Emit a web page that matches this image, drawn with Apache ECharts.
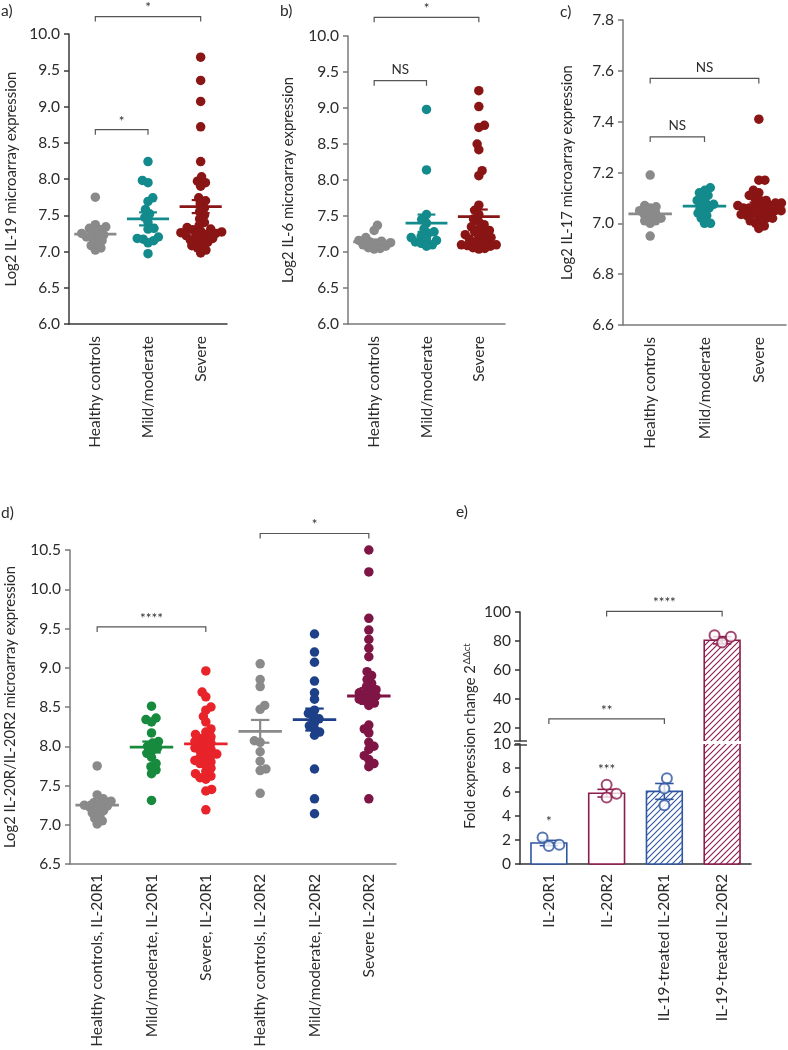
<!DOCTYPE html>
<html><head><meta charset="utf-8">
<script src="https://cdn.jsdelivr.net/npm/echarts@6/dist/echarts.min.js"></script>
<style>html,body{margin:0;padding:0;background:#fff}#c{width:788px;height:1050px}</style>
</head><body><div id="c"></div>
<script>
// ---------------- DATA ----------------
const groupCats = ['Healthy controls', 'Mild/moderate', 'Severe'];

const il19Healthy = [7.75, 7.37, 7.34, 7.32, 7.30, 7.28, 7.25, 7.23, 7.21, 7.20, 7.18, 7.15, 7.12, 7.08, 7.05, 7.02];
const il19Mild = [8.24, 7.98, 7.95, 7.74, 7.69, 7.58, 7.52, 7.47, 7.40, 7.32, 7.31, 7.20, 7.18, 7.17, 7.15, 7.12, 6.97];
const il19Severe = [9.68, 9.36, 9.07, 8.72, 8.24, 8.03, 7.97, 7.95, 7.90, 7.74, 7.70, 7.66, 7.60, 7.55, 7.50, 7.45, 7.40, 7.36, 7.33, 7.31, 7.30, 7.28, 7.27, 7.26, 7.25, 7.24, 7.23, 7.22, 7.20, 7.18, 7.16, 7.15, 7.13, 7.10, 7.08, 7.05, 7.02, 6.98];
const il19Mean = [7.24, 7.45, 7.62];
const il19Sem = [0.04, 0.09, 0.09];
const il19Brackets = [[0, 2, 10.24], [0, 1, 8.68]];
const il19BracketText = ['*', '*'];

const il6Healthy = [7.37, 7.30, 7.20, 7.16, 7.15, 7.14, 7.13, 7.12, 7.10, 7.08, 7.06, 7.05, 7.04];
const il6Mild = [8.98, 8.14, 7.52, 7.45, 7.40, 7.32, 7.28, 7.26, 7.22, 7.20, 7.18, 7.16, 7.14, 7.12, 7.10, 7.08];
const il6Severe = [9.24, 9.02, 8.76, 8.73, 8.50, 8.42, 8.13, 8.06, 7.65, 7.58, 7.52, 7.46, 7.42, 7.38, 7.35, 7.32, 7.30, 7.28, 7.26, 7.24, 7.22, 7.20, 7.18, 7.16, 7.14, 7.12, 7.10, 7.10, 7.09, 7.08, 7.06, 7.05, 7.04];
const il6Mean = [7.14, 7.40, 7.49];
const il6Sem = [0.03, 0.12, 0.10];
const il6Brackets = [[0, 2, 10.26], [0, 1, 9.38]];
const il6BracketText = ['*', 'NS'];

const il17Healthy = [7.19, 7.07, 7.065, 7.06, 7.05, 7.04, 7.035, 7.03, 7.02, 7.01, 7.01, 7.00, 6.95];
const il17Mild = [7.14, 7.13, 7.12, 7.11, 7.10, 7.09, 7.08, 7.075, 7.07, 7.06, 7.05, 7.04, 7.03, 7.02, 7.00, 7.00];
const il17Severe = [7.41, 7.17, 7.17, 7.13, 7.12, 7.11, 7.10, 7.09, 7.09, 7.08, 7.08, 7.075, 7.07, 7.07, 7.065, 7.06, 7.06, 7.055, 7.05, 7.05, 7.045, 7.04, 7.04, 7.035, 7.03, 7.03, 7.02, 7.02, 7.01, 7.01, 7.00, 6.99, 6.98];
const il17Mean = [7.037, 7.068, 7.07];
const il17Sem = [0.015, 0.01, 0.012];
const il17Brackets = [[0, 2, 7.57], [0, 1, 7.34]];
const il17BracketText = ['NS', 'NS'];

const receptorCats = ['Healthy controls, IL-20R1', 'Mild/moderate, IL-20R1', 'Severe, IL-20R1', 'Healthy controls, IL-20R2', 'Mild/moderate, IL-20R2', 'Severe IL-20R2'];
const r1Healthy = [7.75, 7.38, 7.33, 7.30, 7.28, 7.27, 7.25, 7.24, 7.22, 7.20, 7.18, 7.15, 7.12, 7.08, 7.05, 7.01];
const r1Mild = [8.51, 8.36, 8.34, 8.31, 8.17, 8.06, 8.04, 8.00, 7.98, 7.95, 7.91, 7.86, 7.78, 7.74, 7.70, 7.65, 7.31];
const r1Severe = [8.96, 8.69, 8.63, 8.50, 8.46, 8.38, 8.31, 8.22, 8.18, 8.15, 8.12, 8.10, 8.08, 8.06, 8.04, 8.02, 8.00, 7.98, 7.96, 7.94, 7.92, 7.90, 7.88, 7.86, 7.84, 7.82, 7.80, 7.78, 7.76, 7.72, 7.68, 7.65, 7.62, 7.60, 7.58, 7.45, 7.43, 7.19];
const r2Healthy = [9.05, 8.85, 8.76, 8.52, 8.47, 8.07, 8.05, 7.93, 7.81, 7.71, 7.69, 7.40];
const r2Mild = [9.43, 9.20, 9.07, 8.83, 8.68, 8.60, 8.46, 8.42, 8.38, 8.35, 8.30, 8.26, 8.22, 8.18, 8.14, 7.71, 7.33, 7.14];
const r2Severe = [10.50, 10.22, 9.63, 9.48, 9.36, 9.25, 9.14, 8.95, 8.90, 8.85, 8.80, 8.76, 8.72, 8.70, 8.68, 8.66, 8.64, 8.62, 8.60, 8.58, 8.55, 8.52, 8.27, 8.22, 8.17, 8.05, 8.00, 7.96, 7.88, 7.83, 7.78, 7.74, 7.33];
const receptorMean = [7.25, 7.99, 8.03, 8.19, 8.34, 8.64];
const receptorSem = [0.04, 0.07, 0.06, 0.145, 0.14, 0.10];
const receptorBrackets = [[0, 2, 9.52], [3, 5, 10.71]];
const receptorBracketText = ['****', '*'];

const foldCats = ['IL-20R1', 'IL-20R2', 'IL-19-treated IL-20R1', 'IL-19-treated IL-20R2'];
const foldR1 = [2.2, 1.5, 1.6];
const foldR2 = [6.6, 5.55, 5.85];
const foldTreatedR1 = [7.15, 6.3, 4.9];
const foldTreatedR2 = [79, 84, 83];
const foldMean = [1.75, 5.9, 6.05, 80.5];
const foldSem = [0.22, 0.32, 0.66, 2.5];
const foldBrackets = [[0, 2, 26.2], [1, 3, 100.4]];
const foldBracketText = ['**', '****'];
const foldStars = [[0, 3.5], [1, 7.9]];
const foldStarText = ['*', '***'];

// ---------------- STYLE / LAYOUT ----------------
const FONT = 'Lato, "Source Sans Pro", "Noto Sans", sans-serif';
const TXT = '#2b2b2b';
const FS = 15.5;
const GREY = '#8a8a8a', TEAL = '#138a8c', DRED = '#8a1515';
const GREEN = '#178a3e', RED = '#e8232a', NAVY = '#1d4088', MAROON = '#7e1545';
const E_BLUE = '#2f56a0', E_RED = '#8c1c4e';

const grids = [], xAxes = [], yAxes = [], series = [];

function swarm(vals, ppu, d) {
  const pts = vals.map((v, i) => ({ i, y: v * ppu }));
  pts.sort((a, b) => a.y - b.y);
  const placed = []; const off = new Array(vals.length).fill(0);
  let flip = 1;
  for (const p of pts) {
    const near = placed.filter(q => Math.abs(q.y - p.y) < d);
    const cands = [0];
    for (const q of near) {
      const dx = Math.sqrt(d * d - (q.y - p.y) ** 2);
      cands.push(q.x + dx + 0.01, q.x - dx - 0.01);
    }
    cands.sort((a, b) => (Math.abs(a) - Math.abs(b)) || (flip * (b - a)));
    let x = 0;
    for (const c of cands) {
      if (near.every(q => (q.x - c) ** 2 + (q.y - p.y) ** 2 >= d * d - 0.02)) { x = c; break; }
    }
    if (x !== 0) flip = -flip;
    placed.push({ x, y: p.y }); off[p.i] = x;
  }
  return off;
}

function errRender(colors, meanHalf, capHalf, lw, mlw) {
  return function (params, api) {
    const i = api.value(0), m = api.value(1), s = api.value(2);
    const c = api.coord([i, m]), hi = api.coord([i, m + s]), lo = api.coord([i, m - s]);
    const bw = api.size([1, 0])[0];
    const col = colors[params.dataIndex];
    const ch = bw * capHalf, mh = bw * meanHalf;
    const children = [];
    if (mh > 0) children.push({ type: 'line', shape: { x1: c[0] - mh, y1: c[1], x2: c[0] + mh, y2: c[1] }, style: { stroke: col, lineWidth: mlw } });
    children.push({ type: 'line', shape: { x1: c[0], y1: hi[1], x2: c[0], y2: lo[1] }, style: { stroke: col, lineWidth: lw } });
    children.push({ type: 'line', shape: { x1: c[0] - ch, y1: hi[1], x2: c[0] + ch, y2: hi[1] }, style: { stroke: col, lineWidth: lw } });
    children.push({ type: 'line', shape: { x1: c[0] - ch, y1: lo[1], x2: c[0] + ch, y2: lo[1] }, style: { stroke: col, lineWidth: lw } });
    return { type: 'group', children };
  };
}

function bracketRender(texts) {
  return function (params, api) {
    const y = api.value(2);
    const a = api.coord([api.value(0), y]), b = api.coord([api.value(1), y]);
    const t = 5;
    const txt = texts[params.dataIndex];
    const lift = txt.charAt(0) === '*' ? 1.5 : 4;
    return { type: 'group', children: [
      { type: 'polyline', shape: { points: [[a[0], a[1] + t], [a[0], a[1]], [b[0], b[1]], [b[0], b[1] + t]] }, style: { stroke: '#555', lineWidth: 1.2, fill: null } },
      { type: 'text', x: (a[0] + b[0]) / 2, y: a[1] - lift, style: { text: txt, align: 'center', verticalAlign: 'bottom', fill: TXT, fontSize: 13.5, fontFamily: FONT } }
    ] };
  };
}

function textRender(texts) {
  return function (params, api) {
    const p = api.coord([api.value(0), api.value(1)]);
    return { type: 'text', x: p[0], y: p[1], style: { text: texts[params.dataIndex], align: 'center', verticalAlign: 'middle', fill: TXT, fontSize: 13.5, fontFamily: FONT } };
  };
}

function addAxes(g, cats, yCfg, xShow, axisColor, labelMargin) {
  const idx = grids.length;
  grids.push(Object.assign({ containLabel: false, outerBoundsMode: 'none' }, g));
  xAxes.push({
    type: 'category', gridIndex: idx, data: cats, show: xShow, boundaryGap: true,
    axisLine: { lineStyle: { color: axisColor, width: 1.5 } },
    axisTick: { alignWithLabel: true, length: 5, lineStyle: { color: axisColor, width: 1.5 } },
    axisLabel: { rotate: 90, interval: 0, margin: labelMargin, color: TXT, fontSize: FS, fontFamily: FONT },
    splitLine: { show: false }
  });
  yAxes.push(Object.assign({
    type: 'value', gridIndex: idx,
    axisLine: { show: true, lineStyle: { color: axisColor, width: 1.5 } },
    axisTick: { show: true, length: 5, lineStyle: { color: axisColor, width: 1.5 } },
    splitLine: { show: false },
    nameLocation: 'middle', nameRotate: 90,
    nameTextStyle: { color: TXT, fontSize: 14.8, fontFamily: FONT }
  }, yCfg));
  return idx;
}

const dotPanels = [
  { g: { left: 69, top: 34, width: 158, height: 290 }, cats: groupCats, groups: [il19Healthy, il19Mild, il19Severe], mean: il19Mean, sem: il19Sem, br: il19Brackets, brText: il19BracketText, colors: [GREY, TEAL, DRED], min: 6, max: 10, interval: 0.5, dec: 1, name: 'Log2 IL-19 microarray expression', gap: 50, axisColor: '#3a3a3a', lm: 12 },
  { g: { left: 348, top: 36, width: 157, height: 288 }, cats: groupCats, groups: [il6Healthy, il6Mild, il6Severe], mean: il6Mean, sem: il6Sem, br: il6Brackets, brText: il6BracketText, colors: [GREY, TEAL, DRED], min: 6, max: 10, interval: 0.5, dec: 1, name: 'Log2 IL-6 microarray expression', gap: 52, axisColor: '#7a7a7a', lm: 12 },
  { g: { left: 623, top: 20, width: 163, height: 305 }, cats: groupCats, groups: [il17Healthy, il17Mild, il17Severe], mean: il17Mean, sem: il17Sem, br: il17Brackets, brText: il17BracketText, colors: [GREY, TEAL, DRED], min: 6.6, max: 7.8, interval: 0.2, dec: 1, name: 'Log2 IL-17 microarray expression', gap: 48, axisColor: '#7a7a7a', lm: 12 },
  { g: { left: 70, top: 550, width: 326, height: 314 }, cats: receptorCats, groups: [r1Healthy, r1Mild, r1Severe, r2Healthy, r2Mild, r2Severe], mean: receptorMean, sem: receptorSem, br: receptorBrackets, brText: receptorBracketText, colors: [GREY, GREEN, RED, GREY, NAVY, MAROON], min: 6.5, max: 10.5, interval: 0.5, dec: 1, name: 'Log2 IL-20R/IL-20R2 microarray expression', gap: 52, axisColor: '#7a7a7a', lm: 10 }
];

dotPanels.forEach(P => {
  const dec = P.dec;
  const idx = addAxes(P.g, P.cats, {
    min: P.min, max: P.max, interval: P.interval, name: P.name, nameGap: P.gap,
    axisLabel: { margin: 9, color: TXT, fontSize: FS, fontFamily: FONT, formatter: v => Number(v).toFixed(dec) }
  }, true, P.axisColor, P.lm);
  const ppu = P.g.height / (P.max - P.min);
  P.groups.forEach((vals, gi) => {
    const off = swarm(vals, ppu, 6);
    series.push({
      type: 'scatter', xAxisIndex: idx, yAxisIndex: idx, symbolSize: 9.5, z: 2,
      itemStyle: { color: P.colors[gi], opacity: 1 },
      data: vals.map((v, k) => ({ value: [gi, v], symbolOffset: [off[k], 0] }))
    });
  });
  series.push({
    type: 'custom', xAxisIndex: idx, yAxisIndex: idx, z: 3,
    encode: { x: 0, y: [1, 2] },
    renderItem: errRender(P.colors, 0.4, 0.17, 2.2, 2.8),
    data: P.mean.map((m, i) => [i, m, P.sem[i]])
  });
  series.push({
    type: 'custom', xAxisIndex: idx, yAxisIndex: idx, z: 4, clip: false,
    encode: { x: [0, 1], y: 2 },
    renderItem: bracketRender(P.brText),
    data: P.br
  });
});

// ---------------- PANEL e ----------------
function hatch(color) {
  const s = 6; const c = document.createElement('canvas'); c.width = s; c.height = s;
  const x = c.getContext('2d'); x.fillStyle = '#fff'; x.fillRect(0, 0, s, s);
  x.strokeStyle = color; x.lineWidth = 1.1; x.beginPath();
  x.moveTo(0, s); x.lineTo(s, 0); x.moveTo(-1, 1); x.lineTo(1, -1); x.moveTo(s - 1, s + 1); x.lineTo(s + 1, s - 1);
  x.stroke(); return c;
}
const eColors = [E_BLUE, E_RED, E_BLUE, E_RED];
const eFills = ['#ffffff', '#ffffff', { image: hatch(E_BLUE), repeat: 'repeat' }, { image: hatch(E_RED), repeat: 'repeat' }];
const ePts = [foldR1, foldR2, foldTreatedR1, foldTreatedR2];

const upMin = 11, upMax = 100, loMax = 10;
const gUp = { left: 520, top: 612, width: 231, height: 129 };
const gLo = { left: 520, top: 744, width: 231, height: 120 };
const iUp = addAxes(gUp, foldCats, {
  min: upMin, max: upMax,
  axisTick: { show: true, length: 5, lineStyle: { color: '#333', width: 1.5 }, customValues: [20, 40, 60, 80, 100] },
  axisLabel: { margin: 9, color: TXT, fontSize: FS, fontFamily: FONT, customValues: [20, 40, 60, 80, 100] },
  axisLine: { show: true, lineStyle: { color: '#333', width: 1.5 } }
}, false, '#333', 10);
const iLo = addAxes(gLo, foldCats, {
  min: 0, max: loMax, interval: 2,
  axisLabel: { margin: 9, color: TXT, fontSize: FS, fontFamily: FONT },
  axisLine: { show: true, lineStyle: { color: '#333', width: 1.5 } },
  axisTick: { show: true, length: 5, lineStyle: { color: '#333', width: 1.5 } }
}, true, '#333', 10);

// bars drawn as fill + open outline so the broken-axis edges carry no border
function barRender(params, api) {
  const i = api.value(0), m = api.value(1);
  const cs = params.coordSys;
  const bw = api.size([1, 0])[0] * 0.62;
  const top = api.coord([i, m]), base = api.coord([i, 0]);
  const x0 = top[0] - bw / 2, x1 = top[0] + bw / 2;
  const yTop = Math.max(top[1], cs.y), yBot = Math.min(base[1], cs.y + cs.height);
  if (yBot <= yTop) return null;
  const col = eColors[params.dataIndex];
  const children = [{ type: 'rect', shape: { x: x0, y: yTop, width: bw, height: yBot - yTop }, style: { fill: eFills[params.dataIndex], stroke: null } }];
  const bottomIn = base[1] <= cs.y + cs.height + 0.5;
  const topIn = top[1] >= cs.y - 0.5;
  if (topIn) {
    children.push({ type: 'polyline', shape: { points: [[x0, yBot], [x0, yTop], [x1, yTop], [x1, yBot]] }, style: { stroke: col, lineWidth: 1.6, fill: null } });
  } else {
    children.push({ type: 'line', shape: { x1: x0, y1: yTop, x2: x0, y2: yBot }, style: { stroke: col, lineWidth: 1.6 } });
    children.push({ type: 'line', shape: { x1: x1, y1: yTop, x2: x1, y2: yBot }, style: { stroke: col, lineWidth: 1.6 } });
  }
  if (bottomIn) children.push({ type: 'line', shape: { x1: x0, y1: yBot, x2: x1, y2: yBot }, style: { stroke: col, lineWidth: 1.6 } });
  return { type: 'group', children };
}
series.push({ type: 'custom', xAxisIndex: iLo, yAxisIndex: iLo, z: 1, encode: { x: 0, y: 1 }, renderItem: barRender, data: foldMean.map((m, i) => [i, m]) });
series.push({ type: 'custom', xAxisIndex: iUp, yAxisIndex: iUp, z: 1, encode: { x: 0, y: 1 }, renderItem: barRender, data: foldMean.map((m, i) => [i, m]) });

series.push({ type: 'custom', xAxisIndex: iLo, yAxisIndex: iLo, z: 3, clip: true, encode: { x: 0, y: [1, 2] }, renderItem: errRender(eColors, 0, 0.16, 1.6, 0), data: foldMean.map((m, i) => [i, m, foldSem[i]]) });
series.push({ type: 'custom', xAxisIndex: iUp, yAxisIndex: iUp, z: 3, clip: true, encode: { x: 0, y: [1, 2] }, renderItem: errRender(eColors, 0, 0.16, 1.6, 0), data: foldMean.map((m, i) => [i, m, foldSem[i]]) });

const ppuLo = gLo.height / loMax, ppuUp = gUp.height / (upMax - upMin);
ePts.forEach((vals, gi) => {
  const lo = vals.filter(v => v <= loMax), up = vals.filter(v => v > loMax);
  const offLo = swarm(lo, ppuLo, 10.5), offUp = swarm(up, ppuUp, 10.5);
  const common = { type: 'scatter', symbol: 'emptyCircle', symbolSize: 10, z: 4, itemStyle: { color: eColors[gi], borderColor: eColors[gi], borderWidth: 1.6 } };
  if (lo.length) series.push(Object.assign({}, common, { xAxisIndex: iLo, yAxisIndex: iLo, data: lo.map((v, k) => ({ value: [gi, v], symbolOffset: [offLo[k], 0] })) }));
  if (up.length) series.push(Object.assign({}, common, { xAxisIndex: iUp, yAxisIndex: iUp, data: up.map((v, k) => ({ value: [gi, v], symbolOffset: [offUp[k], 0] })) }));
});
series.push({ type: 'custom', xAxisIndex: iUp, yAxisIndex: iUp, z: 5, clip: false, encode: { x: [0, 1], y: 2 }, renderItem: bracketRender(foldBracketText), data: foldBrackets });
series.push({ type: 'custom', xAxisIndex: iLo, yAxisIndex: iLo, z: 5, clip: false, encode: { x: 0, y: 1 }, renderItem: textRender(foldStarText), data: foldStars });

// ---------------- GRAPHICS (panel letters, e y-name, axis break) ----------------
const letter = (t, x, y) => ({ type: 'text', left: x, top: y, style: { text: t, fill: TXT, fontSize: 15.5, fontFamily: FONT } });
const graphic = [
  letter('a)', 1, 3), letter('b)', 280, 3), letter('c)', 560, 4), letter('d)', 1, 505), letter('e)', 456, 504),
  { type: 'text', x: 470, y: 736, rotation: Math.PI / 2,
    style: { text: 'Fold expression change 2{s|ΔΔct}', align: 'center', verticalAlign: 'middle', fill: TXT, fontSize: 14.8, fontFamily: FONT,
      rich: { s: { fontSize: 9.5, fontFamily: FONT, fill: TXT, verticalAlign: 'top', padding: [0, 0, 7, 1] } } } },
  { type: 'line', shape: { x1: 514, y1: 741, x2: 527, y2: 741 }, style: { stroke: '#333', lineWidth: 1.4 } },
  { type: 'line', shape: { x1: 514, y1: 745, x2: 527, y2: 745 }, style: { stroke: '#333', lineWidth: 1.4 } }
];

const chart = echarts.init(document.getElementById('c'), null, { renderer: 'canvas' });
chart.setOption({
  animation: false, backgroundColor: '#fff',
  textStyle: { fontFamily: FONT },
  grid: grids, xAxis: xAxes, yAxis: yAxes, series, graphic
});
</script></body></html>
